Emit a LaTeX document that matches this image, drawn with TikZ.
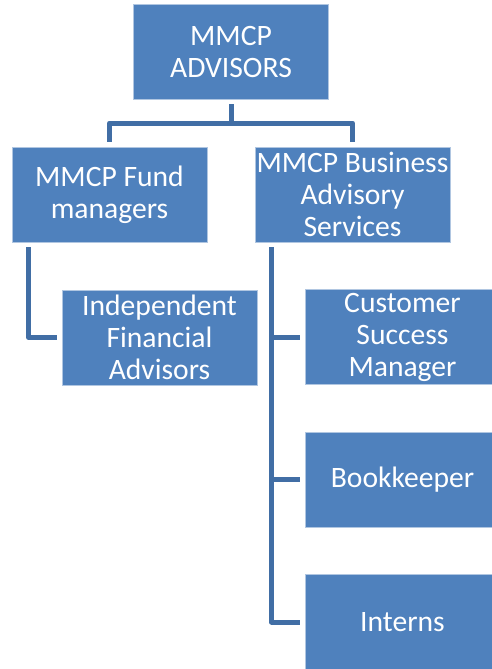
\documentclass[tikz,border=0pt]{standalone}
\usepackage{fontspec}
\setmainfont{Carlito}
\definecolor{boxblue}{RGB}{79,129,189}
\definecolor{linkblue}{RGB}{65,110,165}

\begin{document}
\begin{tikzpicture}[x=0.75pt,y=-0.75pt,
  unit/.style={fill=boxblue,draw=white!55!boxblue,line width=0.4pt,text=white,
    align=center,minimum width=146.5pt,minimum height=71pt,inner sep=1pt,
    font=\fontsize{22.2}{24}\selectfont},
  link/.style={draw=linkblue,line width=3.75pt,line join=round,
    shorten <=3.75pt,shorten >=3.75pt}]
\path[use as bounding box,clip] (0,0) rectangle (492,669);

% Top
\node[unit] (top) at (231,51.5) {MMCP\\ADVISORS};

% Second row
\node[unit] (fund) at (109.5,194.5) {MMCP Fund\\managers};
\node[unit] (bas) at (352.5,194.5) {MMCP Business\\Advisory\\Services};

% Under the fund managers
\node[unit] (ifa) at (159.5,337.5) {Independent\\Financial\\Advisors};

% Under the business advisory services
\node[unit] (csm) at (402.5,337) {Customer\\Success\\Manager};
\node[unit] (book) at (402.5,479.5) {Bookkeeper};
\node[unit] (intern) at (402.5,622) {Interns};

% Connectors
\draw[link] (top.south) -- ++(0,24) -| (fund.north);
\draw[link] (top.south) -- ++(0,24) -| (bas.north);
\draw[link] ([xshift=12.75pt]fund.south west) |- (ifa.west);
\foreach \n in {csm,book,intern}
  \draw[link] ([xshift=12.75pt]bas.south west) |- (\n.west);
\end{tikzpicture}
\end{document}
